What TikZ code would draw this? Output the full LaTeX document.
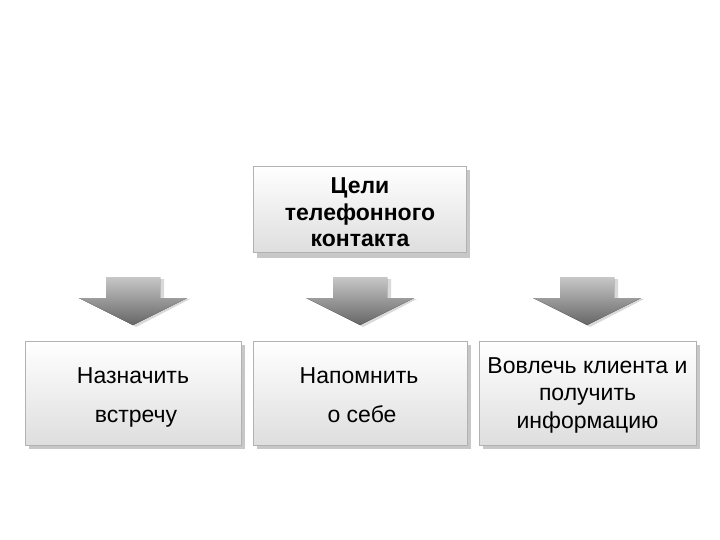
\documentclass[tikz,border=0pt]{standalone}
\usepackage{fontspec}
\setmainfont{Liberation Sans}
\begin{document}
\begin{tikzpicture}[x=1pt,y=-1pt,
  boxshadow/.style={fill=black!22,draw=none},
  goalbox/.style={draw=black!30,line width=0.8pt,top color=white,bottom color=black!13,inner sep=0pt,anchor=north west},
  txt/.style={anchor=base,inner sep=0pt,font=\fontsize{23}{27}\selectfont},
  btxt/.style={txt,font=\bfseries\fontsize{23}{27}\selectfont},
  arrowshape/.style={top color=black!22,bottom color=black!60,draw=none},
  arrowshadow/.style={fill=black!15,draw=none}]
\useasboundingbox (0,0) rectangle (720,540);
% top box
\fill[boxshadow] (257,170) rectangle (470,258);
\node[goalbox,minimum width=213pt,minimum height=86pt] (top) at (253,166) {};
\node[btxt] (t1) at (360,194) {Цели};
\node[btxt] (t2) at (360,220.5) {телефонного};
\node[btxt] (t3) at (360,247) {контакта};
% bottom boxes
\fill[boxshadow] (29,345) rectangle (245,449);
\node[goalbox,minimum width=216pt,minimum height=104pt] (b1) at (25,341) {};
\node[txt] (l1) at (133,383) {Назначить};
\node[txt] (l2) at (136,422) {встречу};
\fill[boxshadow] (257,345) rectangle (471,449);
\node[goalbox,minimum width=214pt,minimum height=104pt] (b2) at (253,341) {};
\node[txt] (m1) at (359,383) {Напомнить};
\node[txt] (m2) at (362,422) {о себе};
\fill[boxshadow] (483,345) rectangle (700,449);
\node[goalbox,minimum width=217pt,minimum height=104pt] (b3) at (479,341) {};
\node[txt] (r1) at (587.5,373) {Вовлечь клиента и};
\node[txt] (r2) at (587.5,400.5) {получить};
\node[txt] (r3) at (587.5,428) {информацию};
% arrows
\foreach \cx/\nm in {133/a1,360/a2,587/a3}{
  \fill[arrowshadow] ({\cx-27+4},279) -- ({\cx+27+4},279) -- ({\cx+27+4},299) -- ({\cx+54+3},299) -- ({\cx+3},327) -- ({\cx-52+3},299) -- ({\cx-27+4},299) -- cycle;
  \fill[arrowshape] ({\cx-27},277) -- ({\cx+27},277) -- ({\cx+27},298) -- ({\cx+54},298) -- (\cx,325) -- ({\cx-54},298) -- ({\cx-27},298) -- cycle;
  \coordinate (\nm) at (\cx,300);
}
\end{tikzpicture}
\end{document}
